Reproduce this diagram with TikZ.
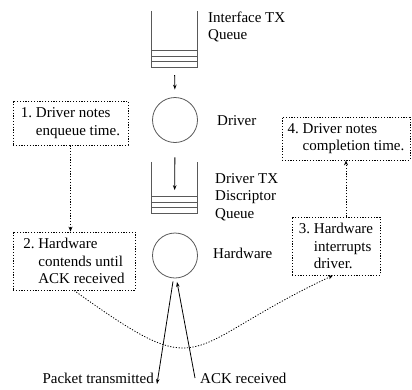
\documentclass[tikz,border=0pt]{standalone}
\usepackage{fontspec}
\setmainfont{Liberation Serif}
\usetikzlibrary{arrows.meta,positioning}

\begin{document}
\begin{tikzpicture}[
    x=1pt, y=-1pt,
    every node/.style={font=\fontsize{15}{17.5}\selectfont},
    label/.style={anchor=west, inner sep=0pt, align=left},
    note/.style={draw, dash pattern=on 1.2pt off 1.6pt, line width=0.8pt, align=left, inner sep=2pt},
    queue/.style={minimum width=45, minimum height=56, inner sep=0pt},
    proc/.style={draw=black!65, line width=0.8pt, circle, minimum size=45, inner sep=0pt},
    flow/.style={-{Stealth[length=5pt, width=3.5pt]}, line width=0.8pt},
    cue/.style={-{Stealth[open, length=5pt, width=4pt]}, line width=0.8pt, dash pattern=on 1.2pt off 1.6pt}
]
    \useasboundingbox (0,0) rectangle (412,389);

    % Queues and processes
    \node[queue] (ifq) at (174.5, 39) {};
    \node[proc] (drv) at (175, 120) {};
    \node[queue, minimum height=51] (dq) at (174.5, 187.5) {};
    \node[proc] (hw) at (175, 255.5) {};

    \foreach \q in {ifq, dq} {
        \draw[black!65, line width=0.8pt] (\q.north west) -- (\q.south west) -- (\q.south east) -- (\q.north east);
        \foreach \d in {5.5, 11, 16.5}
            \draw[black!65, line width=0.8pt] ([yshift=\d]\q.south west) -- ([yshift=\d]\q.south east);
    }

    % Labels
    \node[label] (ifqlbl) at (208, 27) {Interface TX\\Queue};
    \node[label] (drvlbl) at (217, 121) {Driver};
    \node[label] (dqlbl) at (215, 197) {Driver TX\\Discriptor\\Queue};
    \node[label] (hwlbl) at (213, 253) {Hardware};

    % Notes
    \node[note, minimum width=115, minimum height=44] (enq) at (70.5, 123) {1.~Driver notes\\\hphantom{1.~}enqueue time.};
    \node[note, minimum width=122, minimum height=58] (cont) at (74, 261) {2.~Hardware\\\hphantom{2.~}contends until\\\hphantom{2.~}ACK received};
    \node[note, minimum width=88, minimum height=58] (intr) at (336, 246) {3.~Hardware\\\hphantom{3.~}interrupts\\\hphantom{3.~}driver.};
    \node[note, minimum width=128, minimum height=43] (compl) at (346, 138.5) {4.~Driver notes\\\hphantom{4.~}completion time.};

    % Packet flow
    \draw[flow, shorten <=8pt, shorten >=7.5pt] (ifq.south) -- (drv.north);
    \draw[flow, shorten <=14.5pt, shorten >=23pt] (drv.south) -- (dq.south);

    \coordinate (pkt) at (157, 384);
    \coordinate (ack) at (195, 378);
    \draw[flow] ([xshift=-2pt, yshift=-3pt]hw.south) -- (pkt);
    \draw[flow] (ack) -- ([xshift=2pt, yshift=-3.5pt]hw.south);
    \node[anchor=east, inner sep=0pt] (pktlbl) at (154, 378) {Packet transmitted};
    \node[anchor=west, inner sep=0pt] (acklbl) at (200, 378) {ACK received};

    % Timing cues
    \draw[cue] (enq.south) -- (enq.south |- cont.north);
    \draw[cue] (compl.south |- intr.north) -- (compl.south);
    \draw[cue] (cont.south) .. controls (209, 387) and (178, 348) .. ([xshift=-3pt]intr.south);
\end{tikzpicture}
\end{document}
